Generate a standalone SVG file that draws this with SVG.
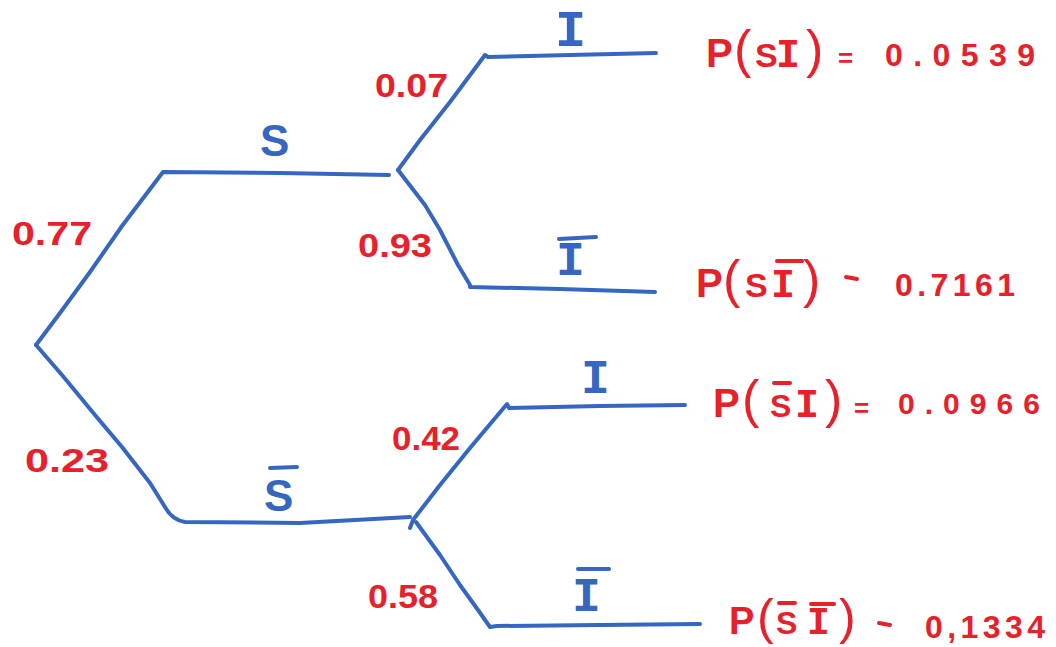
<svg xmlns="http://www.w3.org/2000/svg" width="1056" height="647" viewBox="0 0 1056 647">
<style>
.br{fill:none;stroke:#3566c1;stroke-width:4;stroke-linecap:round;stroke-linejoin:round}
.bar-b{fill:none;stroke:#3566c1;stroke-width:4;stroke-linecap:round}
.bar-r{fill:none;stroke:#e8202a;stroke-width:4;stroke-linecap:round}
.bt{fill:#3566c1;font-family:"Liberation Sans",Arial,sans-serif;font-weight:bold}
.bi{fill:#3566c1;font-family:"Liberation Mono","DejaVu Sans Mono",monospace;font-weight:bold}
.rt{fill:#e8202a;font-family:"Liberation Sans",Arial,sans-serif;font-size:34px;font-weight:bold}
.rl{fill:#e8202a;font-family:"Liberation Sans",Arial,sans-serif;font-weight:bold}
.mono{font-family:"Liberation Mono","DejaVu Sans Mono",monospace}
.par{font-weight:normal}
</style>
<rect width="1056" height="647" fill="#ffffff"/>
<g id="connectors">
<path class="br" d="M36,345 L60,313 L90,272 L122,226 L163,172 L280,173 L389,175"/>
<path class="br" d="M36,345 L62,375 L95,415 L122,447 L150,483 L165,507 Q172,520 185,522 L300,523 L410,517"/>
<path class="br" d="M398,170 L420,140 L450,102 L485,55 L488,57 L570,55 L656,53"/>
<path class="br" d="M398,170 L425,205 L440,230 L458,265 L470,285 L470,287 L560,289 L655,292"/>
<path class="br" d="M410,528 L413,520 L440,485 L470,448 L507,404 L509,408 L600,406 L685,405"/>
<path class="br" d="M416,522 L440,555 L460,585 L478,610 L490,627 L497,626 L600,625 L700,624"/>
</g>
<g id="node-S">
<text class="bt" x="260" y="156" font-size="44">S</text>
</g>
<g id="node-notS">
<path class="bar-b" d="M270,468 L297,467"/>
<text class="bt" x="264" y="511" font-size="44">S</text>
</g>
<g id="node-I1">
<text class="bi" x="555" y="46" font-size="52">I</text>
</g>
<g id="node-notI1">
<path class="bar-b" d="M559,239 L596,237"/>
<text class="bi" x="556" y="275" font-size="48">I</text>
</g>
<g id="node-I2">
<text class="bi" x="581" y="393" font-size="48">I</text>
</g>
<g id="node-notI2">
<path class="bar-b" d="M578,569 L609,569"/>
<text class="bi" x="572" y="611" font-size="48">I</text>
</g>
<g id="prob-labels">
<text class="rt" x="12" y="245" textLength="80" lengthAdjust="spacingAndGlyphs">0.77</text>
<text class="rt" x="25" y="472" textLength="84" lengthAdjust="spacingAndGlyphs">0.23</text>
<text class="rt" x="375" y="97" textLength="73" lengthAdjust="spacingAndGlyphs">0.07</text>
<text class="rt" x="358" y="257" textLength="74" lengthAdjust="spacingAndGlyphs">0.93</text>
<text class="rt" x="392" y="450" textLength="68" lengthAdjust="spacingAndGlyphs">0.42</text>
<text class="rt" x="368" y="608" textLength="70" lengthAdjust="spacingAndGlyphs">0.58</text>
</g>
<g id="result-SI">
<text class="rl" y="67"><tspan x="706" font-size="40">P</tspan><tspan class="par" x="734" font-size="52">(</tspan><tspan x="755" font-size="34">S</tspan><tspan x="776" font-size="40" class="mono">I</tspan><tspan class="par" x="806" font-size="52">)</tspan><tspan x="838" font-size="26">=</tspan></text>
<text class="rl" x="885" y="66" font-size="32" textLength="150" lengthAdjust="spacing">0.0539</text>
</g>
<g id="result-SnotI">
<path class="bar-r" d="M777,261 L802,261"/>
<text class="rl" y="297"><tspan x="696" font-size="40">P</tspan><tspan class="par" x="723" font-size="52">(</tspan><tspan x="745" font-size="34">S</tspan><tspan x="771" font-size="40" class="mono">I</tspan><tspan class="par" x="803" font-size="52">)</tspan></text>
<path class="bar-r" d="M846,277 L857,279"/>
<text class="rl" x="895" y="296" font-size="32" textLength="120" lengthAdjust="spacing">0.7161</text>
</g>
<g id="result-notSI">
<path class="bar-r" d="M774,383 L790,383"/>
<text class="rl" y="417"><tspan x="713" font-size="40">P</tspan><tspan class="par" x="742" font-size="52">(</tspan><tspan x="770" font-size="32">S</tspan><tspan x="795" font-size="40" class="mono">I</tspan><tspan class="par" x="825" font-size="52">)</tspan><tspan x="854" font-size="26">=</tspan></text>
<text class="rl" x="898" y="414" font-size="30" textLength="142" lengthAdjust="spacing">0.0966</text>
</g>
<g id="result-notSnotI">
<path class="bar-r" d="M779,603 L795,603"/>
<path class="bar-r" d="M811,604 L834,604"/>
<text class="rl" y="634"><tspan x="729" font-size="38">P</tspan><tspan class="par" x="757" font-size="50">(</tspan><tspan x="776" font-size="32">S</tspan><tspan x="807" font-size="38" class="mono">I</tspan><tspan class="par" x="839" font-size="50">)</tspan></text>
<path class="bar-r" d="M879,623 L890,625"/>
<text class="rl" x="925" y="638" font-size="32" textLength="120" lengthAdjust="spacing">0,1334</text>
</g>
</svg>
